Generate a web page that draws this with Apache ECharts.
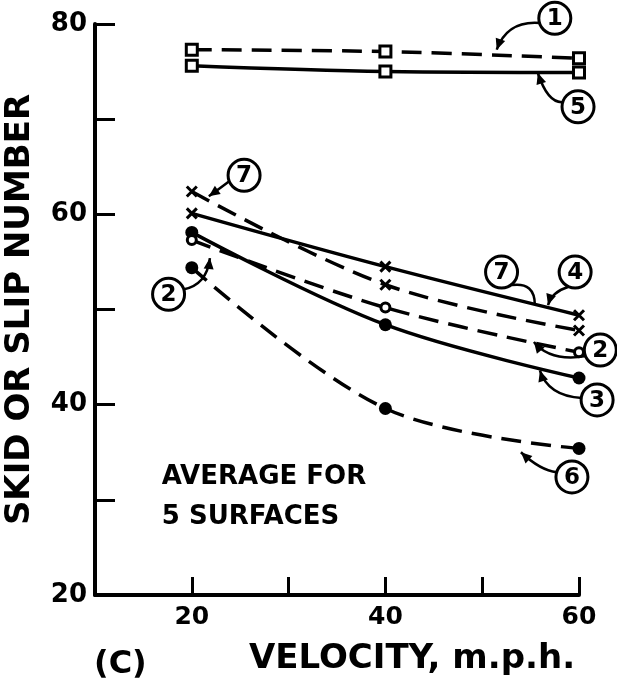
<!DOCTYPE html>
<html>
<head>
<meta charset="utf-8">
<script src="https://cdn.jsdelivr.net/npm/echarts@6/dist/echarts.min.js"></script>
<style>
  html, body { margin: 0; padding: 0; background: #fff; }
  #chart { width: 617px; height: 681px; }
</style>
</head>
<body>
<div id="chart"></div>
<script>
// Velocity (m.p.h.) at which each curve was measured
const velocities = [20, 40, 60];

// Skid / slip numbers, averaged over 5 surfaces
const curve1 = [77.3, 77.1, 76.4];   // dashed, open squares
const curve5 = [75.6, 75.0, 74.9];   // solid, open squares
const curve7 = [62.4, 52.6, 47.8];   // dashed, crosses
const curve4 = [60.1, 54.5, 49.4];   // solid, crosses
const curve3 = [58.1, 48.4, 42.8];   // solid, filled dots
const curve2 = [57.3, 50.2, 45.5];   // dashed, open dots
const curve6 = [54.4, 39.6, 35.4];   // dashed, filled dots

const yTickLabels = [20, 40, 60, 80];
const xTickLabels = [20, 40, 60];

// Callouts: number, circle centre, leader curve (start, control, tip) in data units
const callouts = [
  { n: '1', c: [57.5, 80.6], p: [[56.0, 80.1], [52.6, 80.4], [51.5, 77.3]], arrow: true },
  { n: '5', c: [59.9, 71.3], p: [[58.4, 71.8], [56.8, 71.6], [55.75, 74.85]], arrow: true },
  { n: '7', c: [25.4, 64.1], p: [[23.9, 63.5], [23.0, 62.8], [21.76, 61.9]], arrow: true },
  { n: '2', c: [17.6, 51.6], p: [[19.1, 52.1], [21.55, 52.57], [21.87, 55.4]], arrow: true },
  { n: '7', c: [52.0, 53.94], p: [[53.06, 52.57], [55.44, 52.9], [55.44, 50.47]], arrow: false },
  { n: '4', c: [59.6, 53.94], p: [[58.86, 52.36], [57.2, 51.84], [56.8, 50.47]], arrow: true },
  { n: '2', c: [62.2, 45.74], p: [[60.73, 45.1], [57.0, 44.48], [55.34, 46.58]], arrow: true },
  { n: '3', c: [61.87, 40.5], p: [[60.3, 40.7], [56.8, 40.9], [55.96, 43.6]], arrow: true },
  { n: '6', c: [59.27, 32.4], p: [[57.7, 32.9], [56.0, 33.1], [54.0, 35.0]], arrow: true }
];

const FONT = '"DejaVu Sans", sans-serif';
const INK = '#000';

function pairs(vals) { return velocities.map((v, i) => [v, vals[i]]); }

function lineSeries(name, vals, dashed, symbol, size, filled) {
  return {
    name: name,
    type: 'line',
    data: pairs(vals),
    smooth: 0.35,
    symbol: symbol,
    symbolSize: size,
    showAllSymbol: true,
    lineStyle: { color: INK, width: 3.5, type: dashed ? [20, 10] : 'solid' },
    itemStyle: { color: filled ? INK : '#fff', borderColor: INK, borderWidth: filled ? 0 : 3 },
    z: 3
  };
}

const crossPath = 'path://M0,0 L10,10 M10,0 L0,10';

const chart = echarts.init(document.getElementById('chart'), null, { renderer: 'canvas' });

const option = {
  backgroundColor: '#fff',
  animation: false,
  grid: { left: 95, right: 38, top: 24, bottom: 86, containLabel: false, outerBoundsMode: 'none' },
  xAxis: {
    type: 'value',
    min: 10, max: 60, interval: 10,
    name: 'VELOCITY, m.p.h.',
    nameLocation: 'middle',
    nameGap: 47,
    nameTextStyle: { fontFamily: FONT, fontWeight: 'bold', fontSize: 34, color: INK, padding: [0, 0, 0, 150] },
    axisLine: { lineStyle: { color: INK, width: 4 } },
    axisTick: { inside: true, length: 18, lineStyle: { color: INK, width: 3 } },
    axisLabel: {
      margin: 10,
      fontFamily: FONT, fontWeight: 'bold', fontSize: 25, color: INK,
      formatter: v => xTickLabels.includes(v) ? String(v) : ''
    },
    splitLine: { show: false }
  },
  yAxis: {
    type: 'value',
    min: 20, max: 80, interval: 10,
    name: 'SKID OR SLIP NUMBER',
    nameLocation: 'middle',
    nameRotate: 90,
    nameGap: 58,
    nameTextStyle: { fontFamily: FONT, fontWeight: 'bold', fontSize: 34, color: INK },
    axisLine: { lineStyle: { color: INK, width: 4 } },
    axisTick: { inside: true, length: 20, lineStyle: { color: INK, width: 3 } },
    axisLabel: {
      margin: 8,
      fontFamily: FONT, fontWeight: 'bold', fontSize: 26, color: INK,
      formatter: v => yTickLabels.includes(v) ? String(v) : ''
    },
    splitLine: { show: false }
  },
  series: [
    lineSeries('1', curve1, true, 'rect', 11, false),
    lineSeries('5', curve5, false, 'rect', 11, false),
    Object.assign(lineSeries('7', curve7, true, crossPath, 10, false), { itemStyle: { color: 'none', borderColor: INK, borderWidth: 3 } }),
    Object.assign(lineSeries('4', curve4, false, crossPath, 10, false), { itemStyle: { color: 'none', borderColor: INK, borderWidth: 3 } }),
    lineSeries('3', curve3, false, 'circle', 13, true),
    lineSeries('2', curve2, true, 'circle', 9, false),
    lineSeries('6', curve6, true, 'circle', 13, true)
  ],
  graphic: []
};

chart.setOption(option);

// Callout circles and leader arrows, placed from data coordinates
function px(pt) { return chart.convertToPixel({ gridIndex: 0 }, pt); }

const gfx = [];
callouts.forEach(co => {
  const c = px(co.c);
  const s = px(co.p[0]), m = px(co.p[1]), t = px(co.p[2]);
  gfx.push({
    type: 'bezierCurve',
    shape: { x1: s[0], y1: s[1], x2: t[0], y2: t[1], cpx1: m[0], cpy1: m[1] },
    style: { stroke: INK, lineWidth: 2.5, fill: null },
    z: 10
  });
  if (co.arrow) {
    // arrowhead at the tip, pointing along control → tip
    const ang = Math.atan2(t[1] - m[1], t[0] - m[0]);
    const L = 11, W = 5;
    const bx = t[0] - L * Math.cos(ang), by = t[1] - L * Math.sin(ang);
    const nx = -Math.sin(ang) * W, ny = Math.cos(ang) * W;
    gfx.push({
      type: 'polygon',
      shape: { points: [[t[0], t[1]], [bx + nx, by + ny], [bx - nx, by - ny]] },
      style: { fill: INK },
      z: 10
    });
  }
  gfx.push({
    type: 'circle',
    shape: { cx: c[0], cy: c[1], r: 16 },
    style: { fill: '#fff', stroke: INK, lineWidth: 3 },
    z: 11
  });
  gfx.push({
    type: 'text',
    x: c[0], y: c[1] + 1,
    style: { text: co.n, fontFamily: FONT, fontWeight: 'bold', fontSize: 23, fill: INK, align: 'center', verticalAlign: 'middle' },
    z: 12
  });
});

// Note and panel letter
const note = px([17, 31.5]);
gfx.push({
  type: 'text', x: note[0] - 1, y: note[1] + 12,
  style: { text: 'AVERAGE FOR\n5 SURFACES', fontFamily: FONT, fontWeight: 'bold', fontSize: 26, lineHeight: 40, fill: INK, align: 'left', verticalAlign: 'middle' },
  z: 12
});
gfx.push({
  type: 'text', x: 94, y: 665,
  style: { text: '(C)', fontFamily: FONT, fontWeight: 'bold', fontSize: 32, fill: INK, align: 'left', verticalAlign: 'middle' },
  z: 12
});

chart.setOption({ graphic: gfx });
</script>
</body>
</html>
